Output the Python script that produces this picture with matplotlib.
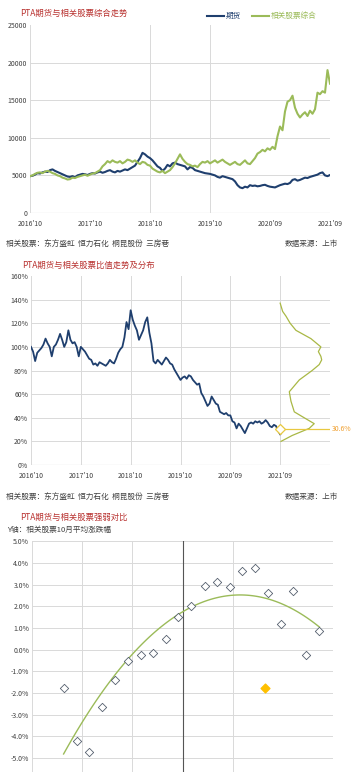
import numpy as np
import matplotlib
matplotlib.use("Agg")
import matplotlib.pyplot as plt

plt.rcParams["font.family"] = ["Noto Sans CJK SC", "DejaVu Sans"]
plt.rcParams["axes.unicode_minus"] = False

# ---- data: panel 1, semi-monthly, months since 2016'10 ----
date_labels = ["2016'10", "2017'10", "2018'10", "2019'10", "2020'09", "2021'09"]
futures = [
    4900, 4950, 5100, 5300, 5250, 5400, 5500, 5450, 5700, 5800,
    5600, 5450, 5300, 5150, 5000, 4850, 4800, 4900, 4750, 5000,
    5100, 5200, 5150, 5050, 5200, 5300, 5250, 5400, 5500, 5350,
    5450, 5600, 5700, 5500, 5400, 5600, 5500, 5650, 5800, 5700,
    5900, 6100, 6300, 6800, 7300, 8000, 7800, 7500, 7300, 7000,
    6600, 6200, 6000, 5600, 5900, 6400, 6200, 6600, 6700, 6500,
    6400, 6300, 6200, 5800, 6100, 6000, 5700, 5600, 5500, 5400,
    5300, 5250, 5200, 5100, 5000, 4800, 4700, 4900, 4800, 4700,
    4600, 4500, 4200, 3700, 3400, 3300, 3500, 3400, 3700, 3600,
    3650, 3550, 3600, 3700, 3750, 3600, 3500, 3450, 3400, 3550,
    3700, 3800, 3900, 3850, 4000, 4400, 4500, 4300, 4400, 4550,
    4700, 4650, 4800, 4900, 5000, 5100, 5300, 5400, 5000, 4900,
    5050,
]
stocks = [
    4900, 5000, 5200, 5350, 5400, 5300, 5500, 5600, 5500, 5300,
    5200, 5000, 4900, 4700, 4600, 4450, 4500, 4700, 4650, 4800,
    4900, 5000, 5100, 4950, 5100, 5250, 5300, 5500, 5700, 6200,
    6500, 6900, 6700, 7000, 6800, 6700, 6900, 6600, 6800, 7100,
    7000, 6800, 7000, 6700, 6500, 6800, 6700, 6400, 6300, 5900,
    5700, 5500, 5400, 5600, 5300, 5500, 5700, 6100, 6600, 7200,
    7800, 7200, 6800, 6500, 6400, 6200, 6300, 6100, 6500, 6800,
    6700, 6900, 6600, 6800, 7000, 6700, 6900, 7100, 6800, 6600,
    6400, 6600, 6800, 6500, 6400, 6700, 7000, 6600, 6500, 6900,
    7300, 7900, 8100, 8400, 8200, 8600, 8400, 8800, 8500, 10200,
    11500, 11000, 13500, 14800, 15000, 15600, 14000, 13200, 12700, 13100,
    13400, 12900, 13600, 13200, 13800, 16000, 15800, 16200, 16000, 19000,
    17200,
]

# ---- panel 2: ratio (%) and its distribution ----
ratio = [
    100, 96, 88, 95, 97, 99, 102, 107, 103, 100,
    92, 100, 102, 106, 111, 106, 100, 104, 114, 106,
    103, 104, 100, 92, 100, 98, 96, 93, 90, 89,
    85, 86, 84, 87, 86, 85, 84, 86, 89, 87,
    86, 90, 95, 98, 100, 108, 121, 115, 131, 123,
    118, 114, 106, 110, 114, 121, 125, 112, 103, 88,
    86, 89, 87, 85, 88, 91, 89, 86, 85, 81,
    78, 75, 72, 74, 75, 73, 76, 75, 72, 70,
    68, 69, 61, 58, 54, 50, 52, 58, 55, 52,
    51, 45, 44, 43, 44, 42, 42, 37, 36, 31,
    35, 33, 30, 27, 31, 35, 36, 35, 37, 36,
    37, 35, 36, 38, 36, 33, 32, 34, 33, 29,
    26,
]
dist_level = [137, 130, 126, 120, 114, 107, 100, 96, 92, 89, 85,
              80, 72, 62, 54, 45, 41, 35, 31, 25, 20]
dist_density = [0, 0.06, 0.14, 0.24, 0.38, 0.74, 0.98, 0.92, 0.98, 1.0, 0.94,
                0.77, 0.46, 0.22, 0.26, 0.34, 0.53, 0.82, 0.70, 0.29, 0.02]
ratio_now = 30.6
ratio_now_label = "30.6%"

# ---- panel 3: scatter ----
sc_x = [-2.37, -2.11, -1.86, -1.60, -1.35, -1.09, -0.83, -0.59, -0.33,
        -0.08, 0.17, 0.45, 0.69, 0.94, 1.19, 1.45, 1.71, 1.96, 2.21,
        2.46, 2.73]
sc_y = [-1.78, -4.24, -4.73, -2.63, -1.38, -0.54, -0.25, -0.17, 0.49,
        1.52, 2.01, 2.95, 3.13, 2.90, 3.62, 3.76, 2.64, 1.18, 2.69,
        -0.25, 0.88]
now_x, now_y = 1.65, -1.77

BLUE = "#1F3F6E"
GREEN = "#9BBB59"
RED = "#B8312F"
GRID = "#D9D9D9"
TXT = "#404040"
FOOT_L = "相关股票：东方盛虹  恒力石化  桐昆股份  三房巷"
FOOT_R = "数据来源：上市"

fig = plt.figure(figsize=(3.52, 7.72), dpi=100)


def style(ax):
    for s in ax.spines.values():
        s.set_visible(False)
    ax.tick_params(length=0, labelsize=5, colors=TXT, pad=2)


# panel 1
ax1 = fig.add_axes([30 / 352, 1 - 213 / 772, 300 / 352, 188 / 772])
style(ax1)
m1 = np.arange(len(futures)) / 2
for v in [5000, 10000, 15000, 20000]:
    ax1.axhline(v, color=GRID, lw=0.7, zorder=0)
ax1.axhline(0, color=GRID, lw=0.9, zorder=0)
for v in [0, 24, 36]:
    ax1.axvline(v, color=GRID, lw=0.7, zorder=0)
ax1.plot(m1, futures, color=BLUE, lw=1.5, label="期货")
ax1.plot(m1, stocks, color=GREEN, lw=1.5, label="相关股票综合")
ax1.set_xlim(0, 60)
ax1.set_ylim(0, 25000)
ax1.set_yticks(range(0, 25001, 5000))
ax1.set_xticks(range(0, 61, 12))
ax1.set_xticklabels(date_labels)
ax1.tick_params(axis="x", pad=5)
leg = ax1.legend(loc="lower right", bbox_to_anchor=(0.97, 1.0), ncol=2, frameon=False,
                 fontsize=5.5, handlelength=2.2, handletextpad=0.2, columnspacing=1.5,
                 borderaxespad=0.2)
for t, c in zip(leg.get_texts(), [BLUE, GREEN]):
    t.set_color(c)
fig.text(20 / 352, 1 - 13 / 772, "PTA期货与相关股票综合走势", color=RED, fontsize=6, va="center")
fig.text(6 / 352, 1 - 244 / 772, FOOT_L, color=TXT, fontsize=5.5, va="center")
fig.text(338 / 352, 1 - 244 / 772, FOOT_R, color=TXT, fontsize=5.5, va="center", ha="right")

# panel 2
ax2 = fig.add_axes([31 / 352, 1 - 465 / 772, 299 / 352, 189 / 772])
style(ax2)
m2 = np.arange(len(ratio)) / 2
for v in range(20, 141, 20):
    ax2.axhline(v, color=GRID, lw=0.7, zorder=0)
ax2.axhline(0, color=GRID, lw=0.9, zorder=0)
for v in range(0, 73, 12):
    ax2.axvline(v, color=GRID, lw=0.7, zorder=0)
ax2.plot(m2, ratio, color=BLUE, lw=1.3)
ax2.plot(60 + np.array(dist_density) * 10, dist_level, color="#A9B845", lw=0.9)
ax2.plot([60, 72], [ratio_now, ratio_now], color="#E8C840", lw=0.9)
ax2.plot([60], [ratio_now], marker="D", ms=5, mfc="white", mec="#E8C840", mew=0.9)
ax2.text(72.5, ratio_now, ratio_now_label, color="#F0A030", fontsize=5, va="center")
ax2.set_xlim(0, 72)
ax2.set_ylim(0, 160)
ax2.set_yticks(range(0, 161, 20))
ax2.set_yticklabels([f"{v}%" for v in range(0, 161, 20)])
ax2.set_xticks(range(0, 61, 12))
ax2.set_xticklabels(date_labels)
ax2.tick_params(axis="x", pad=5)
fig.text(22 / 352, 1 - 265 / 772, "PTA期货与相关股票比值走势及分布", color=RED, fontsize=6, va="center")
fig.text(6 / 352, 1 - 497 / 772, FOOT_L, color=TXT, fontsize=5.5, va="center")
fig.text(338 / 352, 1 - 497 / 772, FOOT_R, color=TXT, fontsize=5.5, va="center", ha="right")

# panel 3
ax3 = fig.add_axes([32 / 352, 0, 301 / 352, 231 / 772])
style(ax3)
for v in range(-5, 6):
    ax3.axhline(v, color=GRID, lw=0.7, zorder=0)
for v in [-3, -2, -1, 1]:
    ax3.axvline(v, color=GRID, lw=0.7, zorder=0)
ax3.axvline(0, color="#555555", lw=0.8, zorder=1)
# quadratic trend line, like the spreadsheet's trendline
coef = np.polyfit(sc_x, sc_y, 2)
xx = np.linspace(min(sc_x), max(sc_x), 100)
ax3.plot(xx, np.polyval(coef, xx), color=GREEN, lw=1.0, zorder=2)
ax3.scatter(sc_x, sc_y, marker="D", s=18, facecolors="white", edgecolors="#555F6E",
            linewidths=0.6, zorder=3)
ax3.scatter([now_x], [now_y], marker="D", s=20, color="#FFC000", zorder=3)
ax3.set_xlim(-3, 3)
ax3.set_ylim(-5.65, 5.02)
ax3.set_yticks(range(-5, 6))
ax3.set_yticklabels([f"{v:.1f}%" for v in range(-5, 6)])
ax3.set_xticks([])
fig.text(20 / 352, 1 - 517 / 772, "PTA期货与相关股票强弱对比", color=RED, fontsize=6, va="center")
fig.text(7 / 352, 1 - 530 / 772, "Y轴：相关股票10月平均涨跌幅", color=TXT, fontsize=5.5, va="center")

fig.savefig("out.png", dpi=100, facecolor="white")
